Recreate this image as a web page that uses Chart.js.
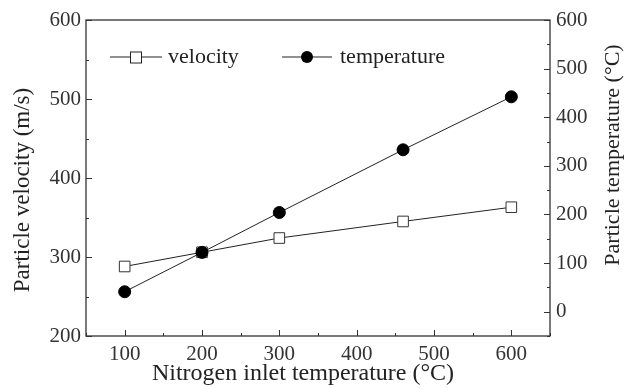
<!DOCTYPE html>
<html>
<head>
<meta charset="utf-8">
<script src="https://cdn.jsdelivr.net/npm/chart.js@4/dist/chart.umd.min.js"></script>
<style>
  html, body { margin: 0; padding: 0; background: #fff; }
  #wrap { width: 626px; height: 389px; }
</style>
</head>
<body>
<div id="wrap"><canvas id="chart" width="626" height="389"></canvas></div>
<script>
// nitrogen inlet temperature (x)
var inletTemp = [100, 200, 300, 460, 600];
var velocity = [288, 306, 324, 345, 363];        // m/s, left axis
var particleTemp = [41, 122, 204, 333, 442];     // degC, right axis

var xTickLabels = [100, 200, 300, 400, 500, 600];
var yLeftLabels = [200, 300, 400, 500, 600];
var yRightLabels = [0, 100, 200, 300, 400, 500, 600];

var FONT = "'Liberation Serif', 'Times New Roman', serif";

function pts(xs, ys) {
  return xs.map(function (x, i) { return { x: x, y: ys[i] }; });
}

function vText(ctx, txt, x, y) {
  ctx.save();
  ctx.translate(x, y);
  ctx.rotate(-Math.PI / 2);
  ctx.fillText(txt, 0, 0);
  ctx.restore();
}

// ticks drawn inward, box round the plot, legend and axis titles
var frame = {
  id: 'frame',
  afterDraw: function (chart) {
    var ctx = chart.ctx, a = chart.chartArea;
    ctx.save();
    ctx.strokeStyle = '#333';
    ctx.lineWidth = 1.3;
    ctx.strokeRect(a.left, a.top, a.right - a.left, a.bottom - a.top);
    ctx.lineWidth = 1;
    var x = chart.scales.x, yl = chart.scales.y, yr = chart.scales.y2;
    var v, p, len;
    for (v = 50; v <= 650; v += 50) {
      p = Math.round(x.getPixelForValue(v)) + 0.5;
      len = v % 100 == 0 ? 6 : 3;
      ctx.beginPath(); ctx.moveTo(p, a.bottom); ctx.lineTo(p, a.bottom - len); ctx.stroke();
    }
    for (v = 200; v <= 600; v += 50) {
      p = Math.round(yl.getPixelForValue(v)) + 0.5;
      len = v % 100 == 0 ? 6 : 3;
      ctx.beginPath(); ctx.moveTo(a.left, p); ctx.lineTo(a.left + len, p); ctx.stroke();
    }
    for (v = -50; v <= 600; v += 50) {
      p = Math.round(yr.getPixelForValue(v)) + 0.5;
      len = v % 100 == 0 ? 6 : 3;
      ctx.beginPath(); ctx.moveTo(a.right, p); ctx.lineTo(a.right - len, p); ctx.stroke();
    }

    // legend inside the plot
    var ly = a.top + 37;
    ctx.strokeStyle = '#222';
    ctx.beginPath(); ctx.moveTo(a.left + 24, ly); ctx.lineTo(a.left + 76, ly); ctx.stroke();
    ctx.fillStyle = '#fff';
    ctx.fillRect(a.left + 44, ly - 5.5, 11, 11);
    ctx.strokeRect(a.left + 44.5, ly - 5, 11, 11);
    ctx.beginPath(); ctx.moveTo(a.left + 196, ly); ctx.lineTo(a.left + 246, ly); ctx.stroke();
    ctx.fillStyle = '#000';
    ctx.beginPath(); ctx.arc(a.left + 221, ly, 6, 0, Math.PI * 2); ctx.fill();
    ctx.font = '22px ' + FONT;
    ctx.textBaseline = 'middle';
    ctx.fillStyle = '#222';
    ctx.fillText('velocity', a.left + 82, ly);
    ctx.fillText('temperature', a.left + 254, ly);

    // axis titles
    ctx.textAlign = 'center';
    ctx.font = '23px ' + FONT;
    vText(ctx, 'Particle velocity (m/s)', 23, 190);
    ctx.font = '22px ' + FONT;
    vText(ctx, 'Particle temperature (°C)', 613, 155);
    ctx.font = '24px ' + FONT;
    ctx.fillText('Nitrogen inlet temperature (°C)', 303, 374);
    ctx.restore();
  }
};

var tickFont = { family: FONT, size: 21 };

var chart = new Chart(document.getElementById('chart').getContext('2d'), {
  type: 'line',
  data: {
    datasets: [
      {
        label: 'velocity',
        data: pts(inletTemp, velocity),
        yAxisID: 'y',
        order: 1,
        borderColor: '#222',
        borderWidth: 1,
        pointStyle: 'rect',
        pointRadius: 7.5,
        pointBackgroundColor: '#fff',
        pointBorderColor: '#333',
        pointBorderWidth: 1,
        tension: 0
      },
      {
        label: 'temperature',
        data: pts(inletTemp, particleTemp),
        yAxisID: 'y2',
        order: 0,
        borderColor: '#222',
        borderWidth: 1,
        pointStyle: 'circle',
        pointRadius: 6,
        pointBackgroundColor: '#000',
        pointBorderColor: '#000',
        tension: 0
      }
    ]
  },
  options: {
    responsive: false,
    animation: false,
    layout: { padding: { top: 20, left: 0, right: 0, bottom: 0 } },
    plugins: { legend: { display: false }, tooltip: { enabled: false } },
    scales: {
      x: {
        type: 'linear', min: 50, max: 650,
        afterBuildTicks: function (s) { s.ticks = xTickLabels.map(function (v) { return { value: v }; }); },
        grid: { display: false, drawTicks: false },
        border: { display: false },
        ticks: { font: tickFont, color: '#333', padding: 6, maxRotation: 0 },
        afterFit: function (s) { s.height = 53; }
      },
      y: {
        type: 'linear', position: 'left', min: 200, max: 600,
        afterBuildTicks: function (s) { s.ticks = yLeftLabels.map(function (v) { return { value: v }; }); },
        grid: { display: false, drawTicks: false },
        border: { display: false },
        ticks: { font: tickFont, color: '#333', padding: 5 },
        afterFit: function (s) { s.width = 86; }
      },
      y2: {
        type: 'linear', position: 'right', min: -50, max: 600,
        afterBuildTicks: function (s) { s.ticks = yRightLabels.map(function (v) { return { value: v }; }); },
        grid: { display: false, drawTicks: false },
        border: { display: false },
        ticks: { font: tickFont, color: '#333', padding: 6 },
        afterFit: function (s) { s.width = 76; }
      }
    }
  },
  plugins: [frame]
});
</script>
</body>
</html>
